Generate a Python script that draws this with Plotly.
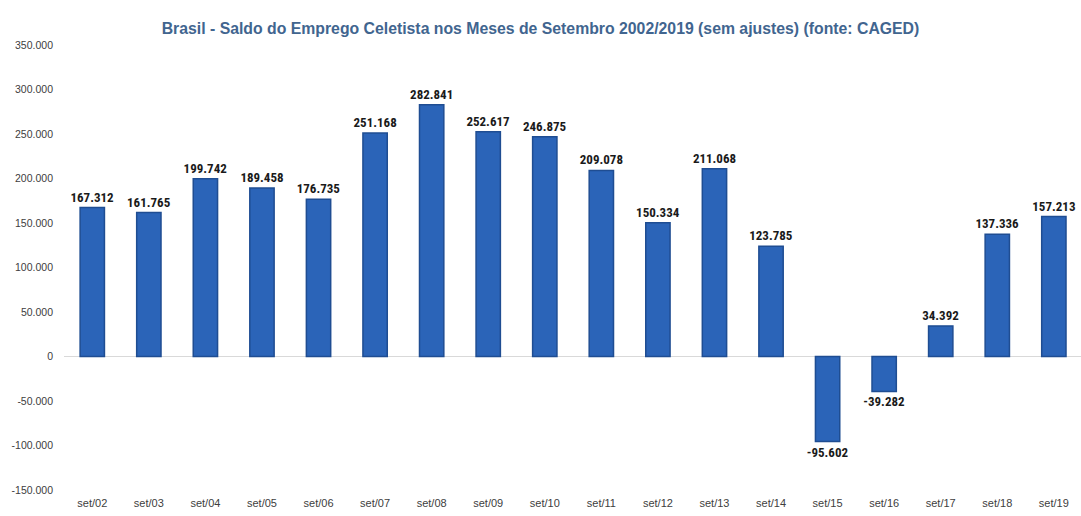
import plotly.graph_objects as go

categories = ["set/02", "set/03", "set/04", "set/05", "set/06", "set/07", "set/08", "set/09", "set/10",
              "set/11", "set/12", "set/13", "set/14", "set/15", "set/16", "set/17", "set/18", "set/19"]
values = [167312, 161765, 199742, 189458, 176735, 251168, 282841, 252617, 246875,
          209078, 150334, 211068, 123785, -95602, -39282, 34392, 137336, 157213]
y_ticks = [-150000, -100000, -50000, 0, 50000, 100000, 150000, 200000, 250000, 300000, 350000]

labels = [f"{v:,}".replace(",", ".") for v in values]
tick_text = [f"{v:,}".replace(",", ".") for v in y_ticks]

narrow = "Liberation Sans Narrow, Roboto Condensed, DejaVu Sans Condensed, Liberation Sans, sans-serif"
regular = "Liberation Sans, Arial, sans-serif"

fig = go.Figure()
fig.add_trace(go.Bar(
    x=list(range(len(categories))),
    y=values,
    text=labels,
    textposition="outside",
    constraintext="none",
    cliponaxis=False,
    width=0.43,
    marker=dict(color="#2b64b8", line=dict(color="#1f4d92", width=1.5)),
    textfont=dict(family=narrow, size=13, color="#1a1a1a", weight="bold"),
    hoverinfo="skip",
))

fig.update_layout(
    width=1081, height=516,
    margin=dict(l=64, r=0, t=45, b=26),
    paper_bgcolor="white", plot_bgcolor="white",
    showlegend=False,
    uniformtext=dict(minsize=13, mode="show"),
    title=dict(
        text="Brasil - Saldo do Emprego Celetista nos Meses de Setembro 2002/2019 (sem ajustes) (fonte: CAGED)",
        x=0.5, xanchor="center", y=0.945, yanchor="middle",
        font=dict(family=regular, size=15.8, color="#41658f", weight="bold"),
    ),
    xaxis=dict(
        tickmode="array", tickvals=list(range(len(categories))), ticktext=categories,
        range=[-0.5, 17.48], showgrid=False, zeroline=False, showline=False,
        ticks="", tickfont=dict(family=regular, size=11, color="#404040"),
        ticklabelstandoff=5,
    ),
    yaxis=dict(
        range=[-150000, 350000], tickmode="array", tickvals=y_ticks, ticktext=tick_text,
        showgrid=False, zeroline=True, zerolinecolor="#d9d9d9", zerolinewidth=1,
        showline=False, ticks="", tickfont=dict(family=regular, size=10.5, color="#404040"),
        ticklabelstandoff=10,
    ),
)

fig.write_html("out.html")
